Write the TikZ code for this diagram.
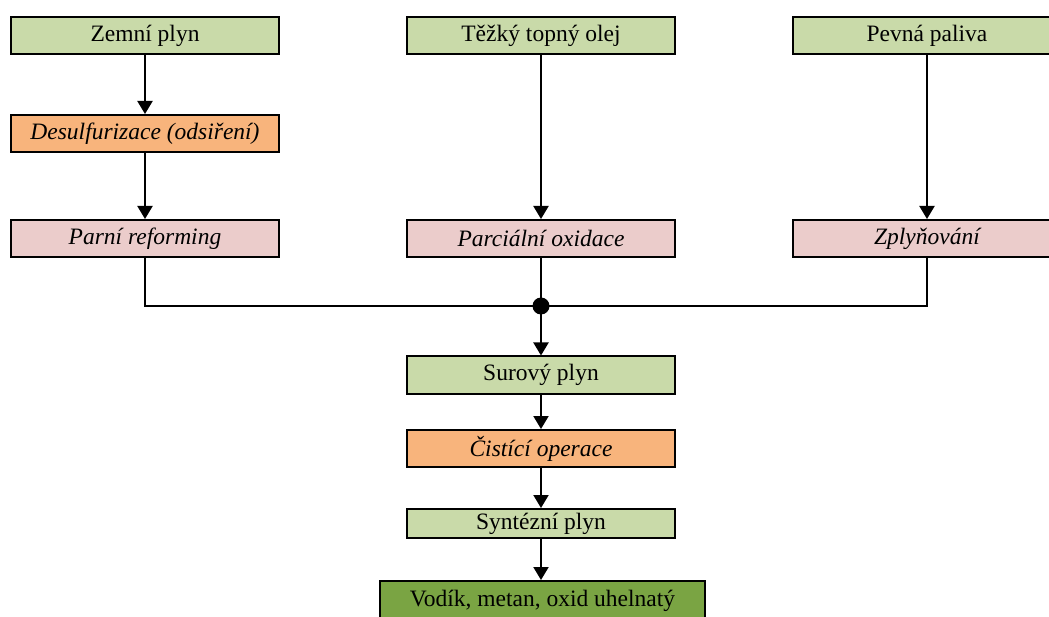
\documentclass[tikz,border=0pt]{standalone}
\usepackage{fontspec}
\setmainfont{Liberation Serif}
\usetikzlibrary{arrows.meta}
\definecolor{lgreen}{HTML}{C9DAA9}
\definecolor{orng}{HTML}{F8B47C}
\definecolor{pink}{HTML}{EBCCCB}
\definecolor{dgreen}{HTML}{7AA443}
\tikzset{
  box/.style={draw=black, line width=2pt, minimum width=268pt, minimum height=37pt, inner sep=0pt, font=\fontsize{23.5}{28}\selectfont},
  gbox/.style={box, fill=lgreen},
  obox/.style={box, fill=orng, font=\fontsize{23.5}{28}\selectfont\itshape},
  pbox/.style={box, fill=pink, font=\fontsize{23.5}{28}\selectfont\itshape},
  conn/.style={line width=2pt, -{Triangle[width=15pt,length=13pt]}},
  line/.style={line width=2pt}
}
\begin{document}
\begin{tikzpicture}[x=1pt,y=-1pt]
\clip (0,0) rectangle (1049,617);
\fill[white] (0,0) rectangle (1049,617);
\node[gbox] (zemni) at (145,35.5) {Zemní plyn};
\node[gbox] (tezky) at (541,35.5) {Těžký topný olej};
\node[gbox] (pevna) at (927,35.5) {Pevná paliva};
\node[obox] (desulf) at (145,133.5) {Desulfurizace (odsiření)};
\node[pbox] (parni) at (145,238.5) {Parní reforming};
\node[pbox] (parc) at (541,238.5) {Parciální oxidace};
\node[pbox] (zply) at (927,238.5) {Zplyňování};
\node[gbox] (surovy) at (541,375) {Surový plyn};
\node[obox] (cist) at (541,448.5) {Čistící operace};
\node[gbox, minimum height=29pt] (synt) at (541,523.5) {Syntézní plyn};
\node[box, fill=dgreen, minimum width=325pt, minimum height=42pt, anchor=north] (vodik) at (542.5,580) {\raisebox{8pt}{Vodík, metan, oxid uhelnatý}};
\coordinate (j) at (541,306);
\draw[conn] (zemni) -- (desulf);
\draw[conn] (desulf) -- (parni);
\draw[conn] (tezky) -- (parc);
\draw[conn] (pevna) -- (zply);
\draw[line] (parni.south) |- (j);
\draw[line] (zply.south) |- (j);
\draw[line] (parc.south) -- (j);
\fill (j) circle (8.5pt);
\draw[conn] (j) -- (surovy);
\draw[conn] (surovy) -- (cist);
\draw[conn] (cist) -- (synt);
\draw[conn] (synt) -- (vodik.north -| synt.south);
\end{tikzpicture}
\end{document}
